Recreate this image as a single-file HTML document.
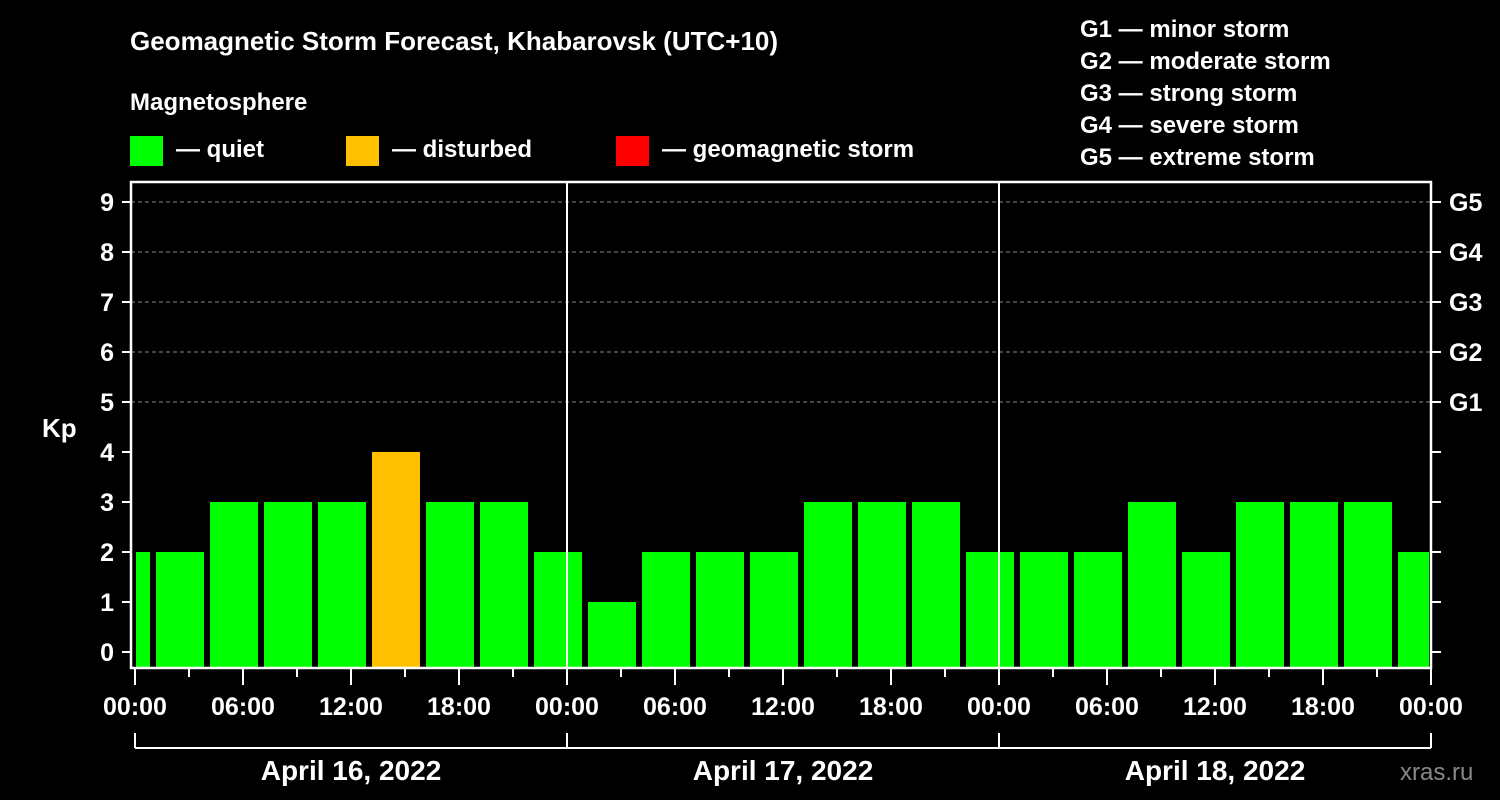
<!DOCTYPE html>
<html><head><meta charset="utf-8"><style>
html,body{margin:0;padding:0;background:#000;}
svg{display:block;font-family:"Liberation Sans",Arial,sans-serif;font-weight:bold;}
</style></head><body>
<svg id="chart" width="1500" height="800" xmlns="http://www.w3.org/2000/svg">
<rect width="1500" height="800" fill="#000"/>
<text x="130" y="50" fill="#fff" font-size="26">Geomagnetic Storm Forecast, Khabarovsk (UTC+10)</text>
<text x="130" y="110" fill="#fff" font-size="24">Magnetosphere</text>
<g><rect x="130" y="136" width="33" height="30" fill="#00ff00"/><text x="176" y="157" fill="#fff" font-size="24">— quiet</text></g>
<g><rect x="346" y="136" width="33" height="30" fill="#ffc000"/><text x="392" y="157" fill="#fff" font-size="24">— disturbed</text></g>
<g><rect x="616" y="136" width="33" height="30" fill="#ff0000"/><text x="662" y="157" fill="#fff" font-size="24">— geomagnetic storm</text></g>
<g fill="#fff" font-size="24">
<text x="1080" y="37">G1 — minor storm</text><text x="1080" y="69">G2 — moderate storm</text><text x="1080" y="101">G3 — strong storm</text><text x="1080" y="133">G4 — severe storm</text><text x="1080" y="165">G5 — extreme storm</text></g>
<text x="42" y="437" fill="#fff" font-size="26">Kp</text>
<text x="1400" y="780" fill="#888" font-size="24" font-weight="normal">xras.ru</text>
<g id="plot"></g>
</svg>
<script>
const kpValues = [2,2,3,3,3,4,3,3,2,1,2,2,2,3,3,3,2,2,2,3,2,3,3,3,2];
const firstBarStartHour = -2;
const barHours = 3;
const yTicks = [0,1,2,3,4,5,6,7,8,9];
const gLabels = ["G1","G2","G3","G4","G5"];
const xTickLabels = ["00:00","06:00","12:00","18:00","00:00","06:00","12:00","18:00","00:00","06:00","12:00","18:00","00:00"];
const dayLabels = ["April 16, 2022","April 17, 2022","April 18, 2022"];

const X0=135, PXH=18, TOTALH=72;
const xs = h => X0 + h*PXH;
const ys = v => 652 - v*50;
const NS="http://www.w3.org/2000/svg";
const plot=document.getElementById('plot');
function el(tag,attrs){const e=document.createElementNS(NS,tag);for(const k in attrs)e.setAttribute(k,attrs[k]);plot.appendChild(e);return e;}
const TOP=182,BOT=668,LEFT=131,RIGHT=xs(TOTALH);
function color(v){return v>=5?"#ff0000":(v>=4?"#ffc000":"#00ff00");}
// grid
for(const v of yTicks){ if(v>=5){const l=el('line',{x1:LEFT,x2:RIGHT,y1:ys(v),y2:ys(v),stroke:'#888','stroke-dasharray':'4,3','stroke-width':1});

}}
// bars
kpValues.forEach((v,i)=>{
 let s=firstBarStartHour+i*barHours, e=s+barHours;
 let x1=Math.max(xs(s)+3,LEFT+5), x2=Math.min(xs(e)-3,RIGHT-2);
 const r=el('rect',{x:x1,y:ys(v),width:x2-x1,height:(BOT-1)-ys(v),fill:color(v)});
 
 
});
// day separators
for(let d=1;d<3;d++){const l=el('line',{x1:xs(d*24),x2:xs(d*24),y1:TOP,y2:BOT,stroke:'#fff','stroke-width':2});

}
// frame
const fr=el('path',{d:`M${LEFT},${TOP}H${RIGHT}V${BOT}H${LEFT}Z`,fill:'none',stroke:'#fff','stroke-width':2.5});


// y ticks
for(const v of yTicks){
 el('line',{x1:122,x2:LEFT,y1:ys(v),y2:ys(v),stroke:'#fff','stroke-width':2});
 el('line',{x1:RIGHT,x2:RIGHT+10,y1:ys(v),y2:ys(v),stroke:'#fff','stroke-width':2});
 const t=el('text',{x:114,y:ys(v)+9,fill:'#fff','font-size':25,'text-anchor':'end'});t.textContent=v;
 
 
 if(v>=5){const g=el('text',{x:1449,y:ys(v)+9,fill:'#fff','font-size':25});g.textContent=gLabels[v-5];
 
 }
}
// x ticks
for(let h=0;h<=TOTALH;h+=3){
 const major=h%6===0;
 el('line',{x1:xs(h),x2:xs(h),y1:BOT,y2:BOT+(major?17:9),stroke:'#fff','stroke-width':2});
}
xTickLabels.forEach((lab,i)=>{
 const t=el('text',{x:xs(i*6),y:715,fill:'#fff','font-size':25,'text-anchor':'middle'});t.textContent=lab;
 
 
});
// day bracket
el('line',{x1:xs(0),x2:RIGHT,y1:748,y2:748,stroke:'#fff','stroke-width':2});
for(let d=0;d<=3;d++) el('line',{x1:xs(d*24),x2:xs(d*24),y1:733,y2:748,stroke:'#fff','stroke-width':2});
dayLabels.forEach((lab,i)=>{
 const t=el('text',{x:xs(i*24+12),y:780,fill:'#fff','font-size':28,'text-anchor':'middle'});t.textContent=lab;
 
 
});
</script>
</body></html>
